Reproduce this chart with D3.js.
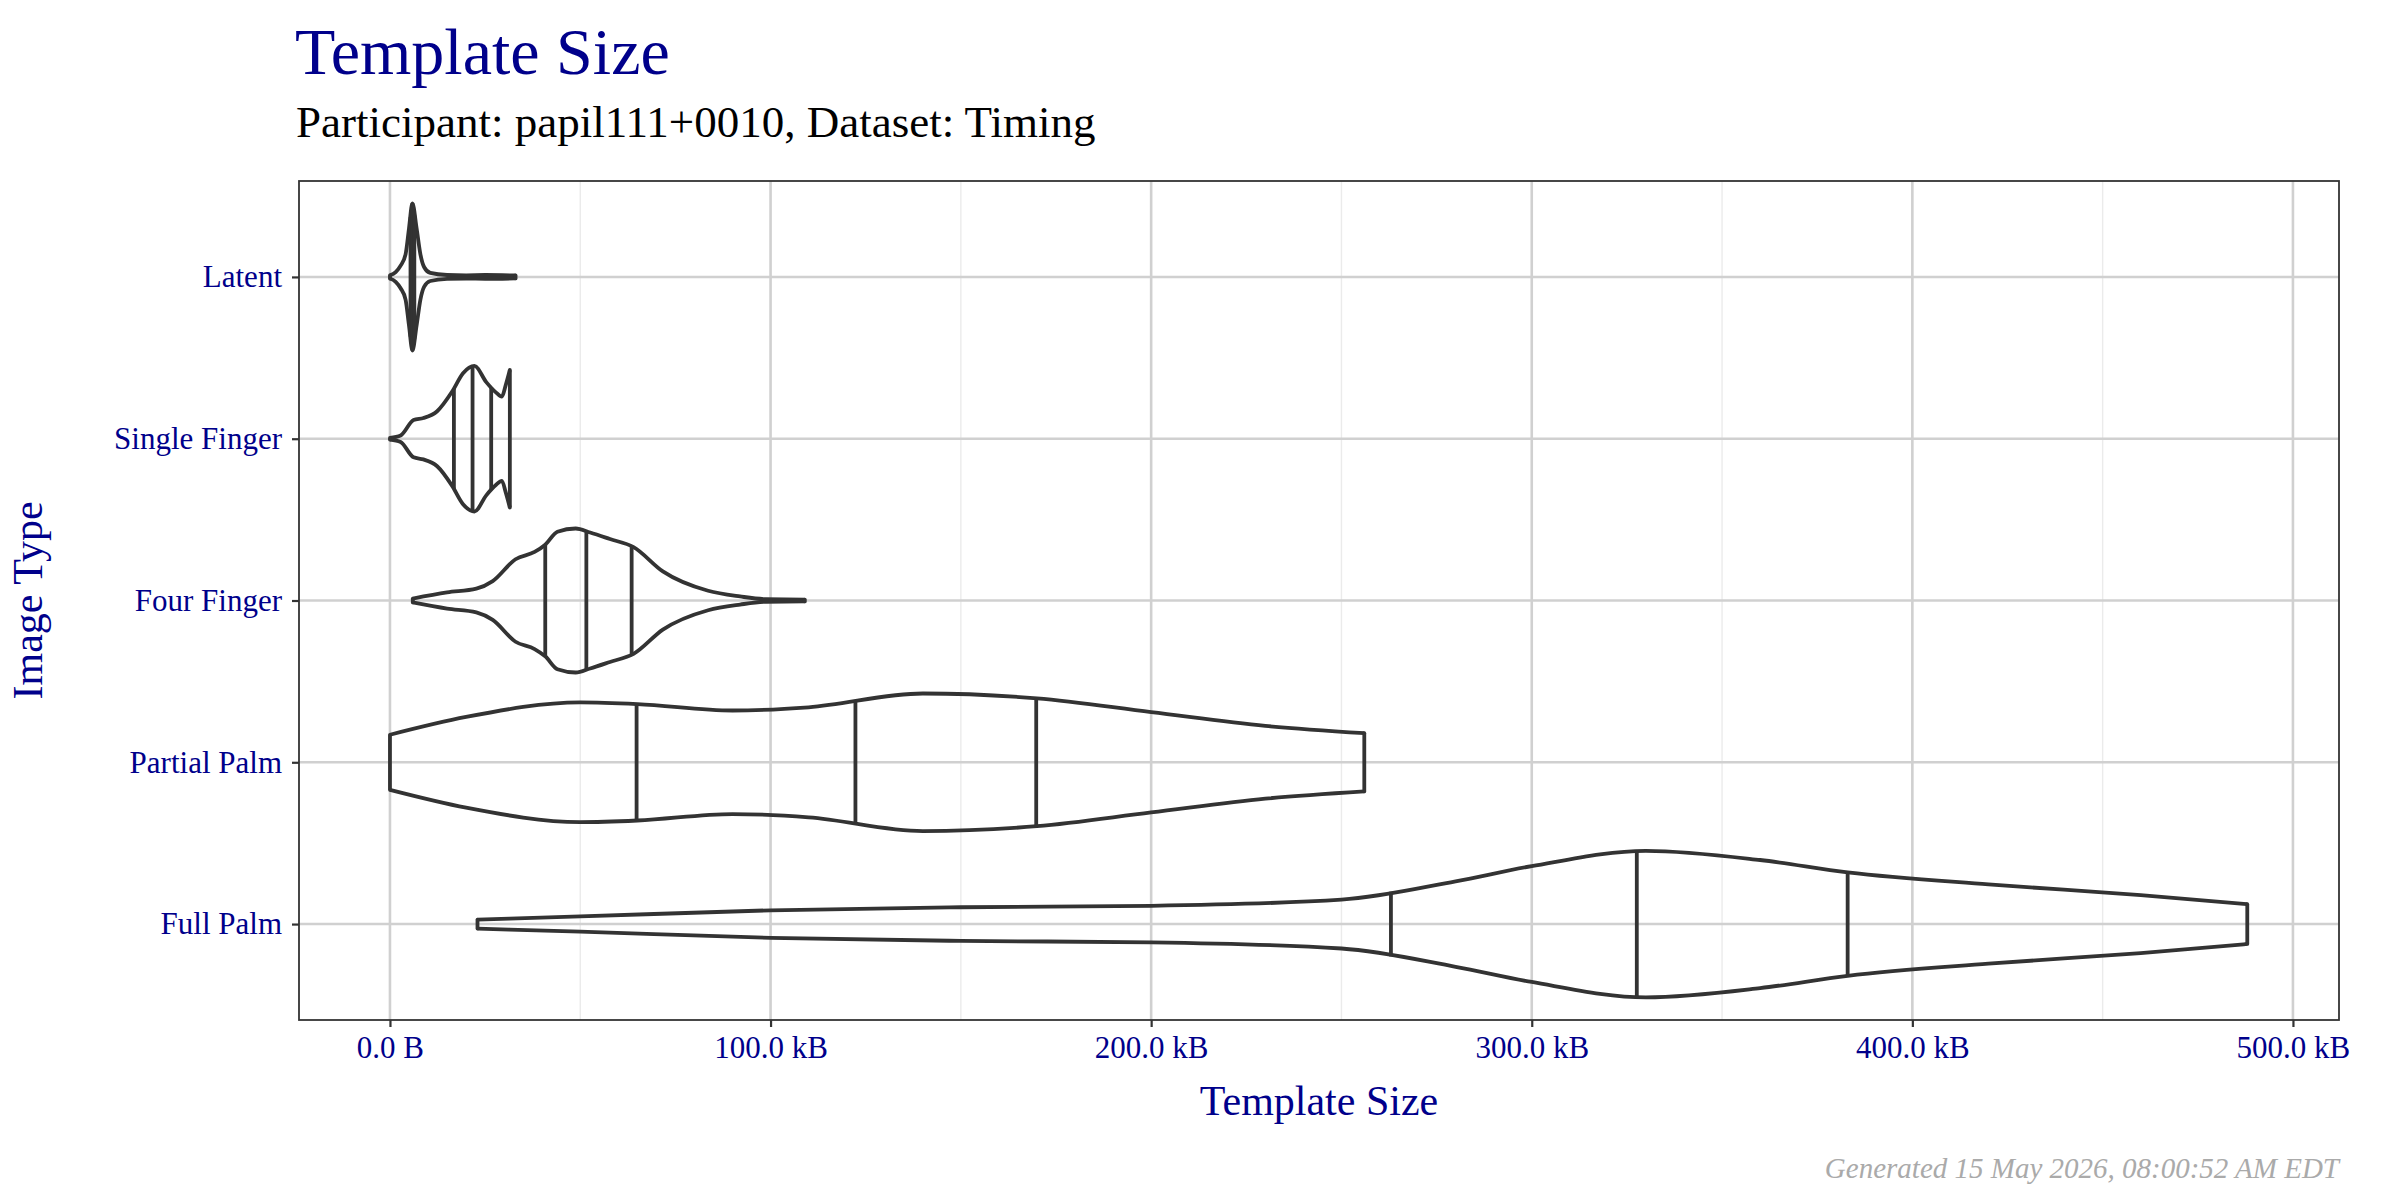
<!DOCTYPE html>
<html><head><meta charset="utf-8">
<script src="https://cdn.jsdelivr.net/npm/d3@7"></script>
<style>body{margin:0;background:#fff}</style></head>
<body><svg id="c" width="2400" height="1200"></svg>
<script>
const categories = ["Latent","Single Finger","Four Finger","Partial Palm","Full Palm"];
const xTicks = [0,100,200,300,400,500];
const xTickLabels = ["0.0 B","100.0 kB","200.0 kB","300.0 kB","400.0 kB","500.0 kB"];
// density profiles: [value kB, relative half-width]
const latentProfile = [[0,0.01],[1.5,0.03],[2.8,0.07],[4.1,0.14],[5,0.3],[5.9,0.455],[7,0.3],[8,0.14],[9,0.06],[10.6,0.025],[15,0.012],[20,0.01],[25,0.012],[33,0.009]];
const singleProfile = [[0,0.005],[2.8,0.02],[6.2,0.115],[8.8,0.128],[12.4,0.17],[16.3,0.29],[19.2,0.405],[22.2,0.45],[25.3,0.35],[27.9,0.285],[29.4,0.26],[30.4,0.33],[31.5,0.425]];
const fourProfile = [[6,0.012],[15,0.05],[22.7,0.073],[27,0.12],[33,0.255],[38,0.3],[40.8,0.345],[44,0.425],[48.8,0.445],[52.6,0.42],[57.8,0.38],[64,0.33],[71.7,0.18],[83.6,0.06],[92,0.025],[98.8,0.008],[109,0.006]];
const partialProfile = [[0,0.17],[20,0.28],[50,0.37],[65,0.36],[90,0.32],[110,0.34],[140,0.425],[170,0.395],[200,0.31],[230,0.225],[256,0.18]];
const fullProfile = [[23,0.028],[50,0.047],[100,0.085],[150,0.104],[200,0.113],[250,0.151],[280,0.264],[300,0.358],[330,0.453],[360,0.396],[383,0.32],[420,0.245],[460,0.179],[488,0.123]];
const profiles = [latentProfile,singleProfile,fourProfile,partialProfile,fullProfile];
const quantiles = [[5.4,5.9,6.4],[16.8,21.7,26.6],[40.8,51.6,63.5],[64.8,122.3,169.8],[263,327.6,383]];

const svg = d3.select("#c");
const L=299,R=2339,T=181,B=1020;
const blue="#00008B", font="'Liberation Serif','DejaVu Serif',serif";
const x=d3.scaleLinear().domain([-23.9,512.1]).range([L,R]);
const y=d3.scalePoint().domain(categories).range([T,B]).padding(0.593);
const step=y.step();
const SW=3.8;

const minor=d3.range(50,500,100);
svg.selectAll(".mg").data(minor).enter().append("line").attr("x1",d=>x(d)).attr("x2",d=>x(d)).attr("y1",T).attr("y2",B).attr("stroke","#ebebeb").attr("stroke-width",1.4);
svg.selectAll(".gx").data(xTicks).enter().append("line").attr("x1",d=>x(d)).attr("x2",d=>x(d)).attr("y1",T).attr("y2",B).attr("stroke","#d0d0d0").attr("stroke-width",2.6);
svg.selectAll(".gy").data(categories).enter().append("line").attr("x1",L).attr("x2",R).attr("y1",d=>y(d)).attr("y2",d=>y(d)).attr("stroke","#d0d0d0").attr("stroke-width",2.6);

function hwAt(p,v){for(let i=0;i<p.length-1;i++){if(v>=p[i][0]&&v<=p[i+1][0]){const t=(v-p[i][0])/(p[i+1][0]-p[i][0]);return (p[i][1]+t*(p[i+1][1]-p[i][1]));}}return 0;}

categories.forEach((c,i)=>{
  const p=profiles[i], cy=y(c);
  const top=d3.line().curve(d3.curveMonotoneX)(p.map(d=>[x(d[0]),cy-d[1]*step]));
  const bot=d3.line().curve(d3.curveMonotoneX)(p.map(d=>[x(d[0]),cy+d[1]*step]));
  svg.append("path").attr("d",top).attr("fill","none").attr("stroke","#333").attr("stroke-width",SW);
  svg.append("path").attr("d",bot).attr("fill","none").attr("stroke","#333").attr("stroke-width",SW);
  const f=p[0], l=p[p.length-1];
  [f,l].forEach(d=>svg.append("line").attr("x1",x(d[0])).attr("x2",x(d[0])).attr("y1",cy-d[1]*step).attr("y2",cy+d[1]*step).attr("stroke","#333").attr("stroke-width",SW).attr("stroke-linecap","round"));
  quantiles[i].forEach(q=>{const h=hwAt(p,q)*step;svg.append("line").attr("x1",x(q)).attr("x2",x(q)).attr("y1",cy-h).attr("y2",cy+h).attr("stroke","#333").attr("stroke-width",SW);});
});

svg.append("rect").attr("x",L).attr("y",T).attr("width",R-L).attr("height",B-T).attr("fill","none").attr("stroke","#333").attr("stroke-width",1.8);

const gx=svg.append("g").attr("transform",`translate(0,${B})`).call(d3.axisBottom(x).tickValues(xTicks).tickFormat((d,i)=>xTickLabels[i]).tickSize(7).tickPadding(9));
const gy=svg.append("g").attr("transform",`translate(${L},0)`).call(d3.axisLeft(y).tickSize(7).tickPadding(10));
[gx,gy].forEach(g=>{g.select(".domain").remove();g.selectAll("line").attr("stroke","#333").attr("stroke-width",2.2);g.selectAll("text").attr("fill",blue).style("font-family",font).style("font-size","31px");});

svg.append("text").attr("x",295).attr("y",74).text("Template Size").attr("fill",blue).style("font-family",font).style("font-size","66px");
svg.append("text").attr("x",296).attr("y",137).text("Participant: papil111+0010, Dataset: Timing").attr("fill","#000").style("font-family",font).style("font-size","45px");
svg.append("text").attr("x",(L+R)/2).attr("y",1115).attr("text-anchor","middle").text("Template Size").attr("fill",blue).style("font-family",font).style("font-size","42px");
svg.append("text").attr("transform",`translate(42,${(T+B)/2}) rotate(-90)`).attr("text-anchor","middle").text("Image Type").attr("fill",blue).style("font-family",font).style("font-size","42px");
svg.append("text").attr("x",R).attr("y",1178).attr("text-anchor","end").text("Generated 15 May 2026, 08:00:52 AM EDT").attr("fill","#aaaaaa").style("font-family",font).style("font-style","italic").style("font-size","29px");
</script></body></html>
